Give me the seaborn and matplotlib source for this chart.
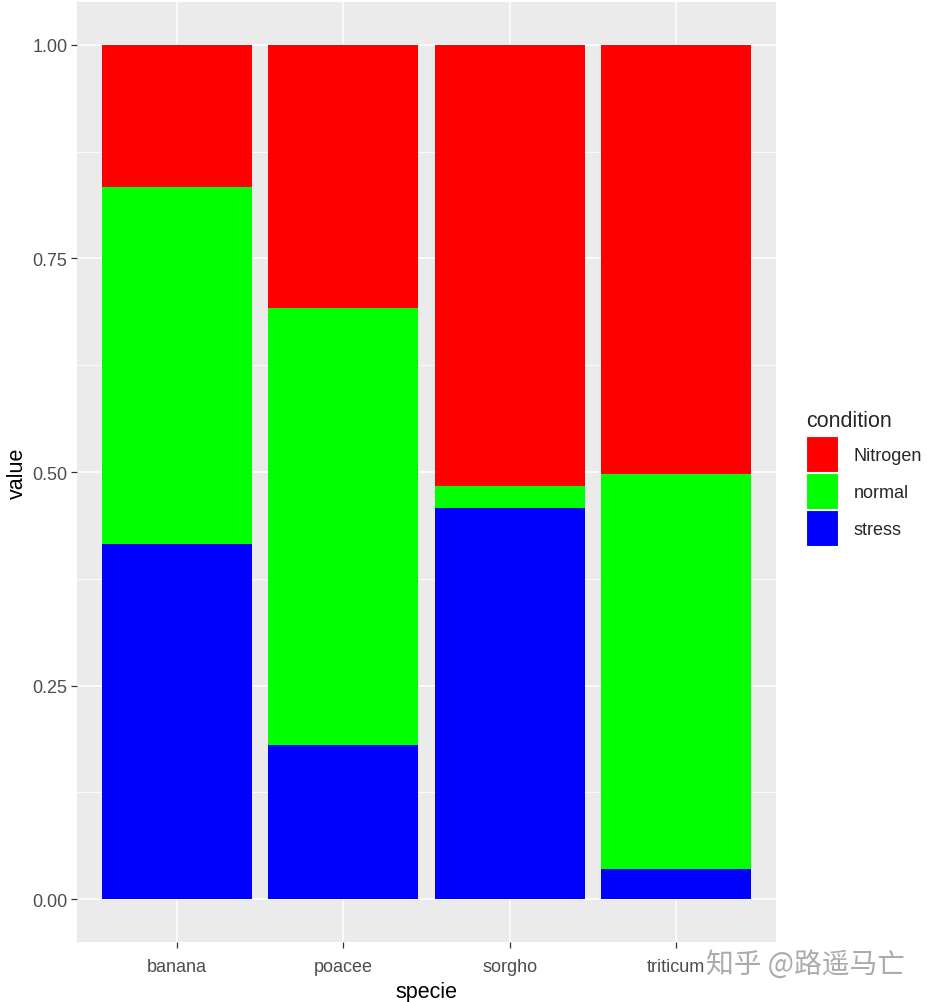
import matplotlib
matplotlib.use("Agg")
import matplotlib.pyplot as plt
from matplotlib.patches import Patch
import numpy as np
import pandas as pd
import seaborn as sns

# ---- data ----
species = ["banana", "poacee", "sorgho", "triticum"]
conditions = ["Nitrogen", "normal", "stress"]
nitrogen = [0.166, 0.308, 0.516, 0.502]
normal = [0.418, 0.511, 0.026, 0.462]
stress = [0.416, 0.181, 0.458, 0.036]
colors = {"Nitrogen": "#FF0000", "normal": "#00FF00", "stress": "#0000FF"}
y_ticks = [0.0, 0.25, 0.5, 0.75, 1.0]
y_ticklabels = ["0.00", "0.25", "0.50", "0.75", "1.00"]

sns.set_theme(style="darkgrid")
plt.rcParams["font.family"] = ["Liberation Sans", "DejaVu Sans"]

df = pd.DataFrame({"specie": species, "Nitrogen": nitrogen,
                   "normal": normal, "stress": stress})
total = df[conditions].sum(axis=1)
df["stress_top"] = df["stress"] / total
df["normal_top"] = (df["stress"] + df["normal"]) / total
df["nitrogen_top"] = (df["stress"] + df["normal"] + df["Nitrogen"]) / total

fig = plt.figure(figsize=(9.27, 10.03), dpi=100)
ax = fig.add_axes([77 / 927, 1 - 943 / 1003, (776 - 77) / 927, (943 - 3) / 1003])
ax.set_facecolor("#EBEBEB")

for col, cond in [("nitrogen_top", "Nitrogen"), ("normal_top", "normal"), ("stress_top", "stress")]:
    sns.barplot(data=df, x="specie", y=col, color=colors[cond], width=0.9,
                saturation=1, linewidth=0, ax=ax, order=species, zorder=3)

ax.set_xlim(-0.6, 3.6)
ax.set_ylim(-0.05, 1.05)
ax.set_yticks(y_ticks)
ax.set_yticklabels(y_ticklabels)
ax.set_yticks([0.125, 0.375, 0.625, 0.875], minor=True)
ax.grid(which="major", color="white", linewidth=1.1, zorder=0)
ax.grid(which="minor", axis="y", color="white", linewidth=0.55, zorder=0)
ax.set_axisbelow(True)
for s in ax.spines.values():
    s.set_visible(False)
ax.tick_params(axis="both", which="major", length=4.3, width=0.9, color="#333333",
               labelcolor="#4D4D4D", labelsize=13, pad=2.5, bottom=True, left=True)
ax.tick_params(axis="x", which="major", pad=7.5)
ax.tick_params(axis="both", which="minor", length=0)
ax.set_xlabel("specie", fontsize=15.5, color="black", labelpad=4)
ax.set_ylabel("value", fontsize=15.5, color="black", labelpad=3)

handles = [Patch(facecolor=colors[c], edgecolor="white", linewidth=0.8, label=c) for c in conditions]
leg = fig.legend(handles=handles, title="condition", loc="upper left",
                 bbox_to_anchor=(806 / 927, 1 - 411 / 1003), frameon=False,
                 fontsize=13, title_fontsize=15.5, handlelength=1.78, handleheight=2.7,
                 labelspacing=0.05, handletextpad=0.87, borderaxespad=0, borderpad=0)
leg._legend_box.align = "left"
leg._legend_box.sep = 3.8

fig.text(905 / 927, 1 - 965 / 1003, "知乎 @路遥马亡", fontsize=20, color="#ABABAB",
         family=["Noto Sans CJK SC", "DejaVu Sans"], ha="right", va="center")

fig.savefig("out.png", dpi=100)
